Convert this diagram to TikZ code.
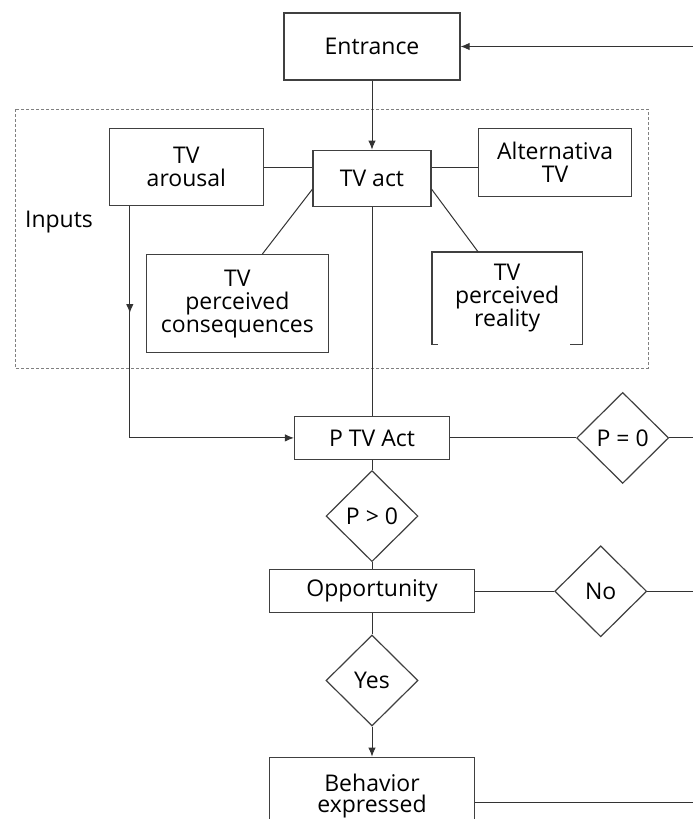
\documentclass[tikz,border=0pt]{standalone}
\usepackage{fontspec}
\setmainfont{Open Sans}
\usetikzlibrary{arrows.meta, positioning, shapes.geometric, decorations.markings, calc}

\begin{document}
\begin{tikzpicture}[
    x=1pt, y=-1pt,
    font=\fontsize{23}{23}\selectfont,
    frame/.style={draw=black!75, line width=1.2pt},
    box/.style={frame, align=center, inner sep=0pt},
    txt/.style={align=center, inner sep=0pt},
    cond/.style={diamond, frame, align=center, inner sep=0pt,
                 minimum width=92pt, minimum height=91pt},
    link/.style={draw=black!80, line width=1pt},
    arr/.style={link, -{Latex[length=9pt, width=7.5pt]}},
    midarr/.style={postaction={decorate}, decoration={markings,
                   mark=at position #1 with {\arrow{Latex[length=9pt, width=7.5pt]}}}},
    inbox/.style={draw=black!50, line width=1pt, dash pattern=on 3pt off 2pt}
  ]
    \useasboundingbox (0,0) rectangle (693,819);
    \fill[white] (0,0) rectangle (693,819);
    \clip (0,0) rectangle (693,819);
    \coordinate (rim) at (693,0);

    % main column
    \node[box, minimum width=176pt, minimum height=67pt] (entrance) at (372,46.5) {Entrance};
    \node[box, minimum width=118pt, minimum height=56pt, below=69pt of entrance] (tvact) {TV act};
    \node[box, minimum width=155pt, minimum height=43pt, below=209pt of tvact] (ptv) {P TV Act};
    \node[cond, below=10pt of ptv] (pgt) {P > 0};
    \node[box, minimum width=205pt, minimum height=43pt, below=7pt of pgt] (opp) {Opportunity};
    \node[cond, below=21pt of opp] (yes) {Yes};
    \node[box, minimum width=205pt, minimum height=78pt, below=30pt of yes,
          font=\fontsize{23}{21}\selectfont] (beh) {Behavior\\expressed};

    % right branches
    \node[cond, right=126pt of ptv] (peq) {P = 0};
    \node[cond, right=79pt of opp] (no) {No};

    % inputs
    \draw[inbox] (15,109) rectangle (648,368);
    \node[txt] (inputs) at (59,222) {Inputs};
    \node[box, minimum width=154pt, minimum height=77pt, anchor=north east] (arousal) at (264,128) {TV\\arousal};
    \node[box, minimum width=153pt, minimum height=68pt, anchor=north west] (alt) at (478,128) {Alternativa\\TV};
    \node[box, minimum width=182pt, minimum height=98pt, anchor=north east] (cons) at (329,254) {TV\\perceived\\consequences};
    \node[txt, minimum width=150pt, minimum height=92pt, anchor=north west] (real) at (432,252) {TV\\perceived\\reality};
    \draw[frame] (real.south west) ++(6,0) -- (real.south west) -- (real.north west)
      -- (real.north east) -- (real.south east) -- ++(-12,0);

    \draw[arr] (entrance.east -| rim) -- (entrance.east);
    \draw[arr] (entrance) -- (tvact);
    \draw[link] (arousal.east) -- (arousal.east -| tvact.west);
    \draw[link] (tvact.east |- arousal.east) -- (alt.west |- arousal.east);
    \draw[link] ([yshift=-11pt]tvact.west) -- ([xshift=25pt]cons.north);
    \draw[link] ([yshift=-11pt]tvact.east) -- ([xshift=-29pt]real.north);

    \coordinate (adown) at ([xshift=21pt]arousal.south west);
    \draw[arr, midarr=0.27] (adown) -- (adown |- ptv.west) -- (ptv.west);
    \draw[link] (tvact) -- (ptv);
    \draw[link] (ptv) -- (peq);
    \draw[link] (peq.east) -- (peq.east -| rim);
    \draw[link] (ptv) -- (pgt);
    \draw[link] (pgt) -- (opp);
    \draw[link] (opp) -- (no);
    \draw[link] (no.east) -- (no.east -| rim);
    \draw[link] (opp) -- (yes);
    \draw[arr] (yes) -- (beh);
    \draw[link] ([yshift=-6pt]beh.east) -- ([yshift=-6pt]beh.east -| rim);
\end{tikzpicture}
\end{document}
